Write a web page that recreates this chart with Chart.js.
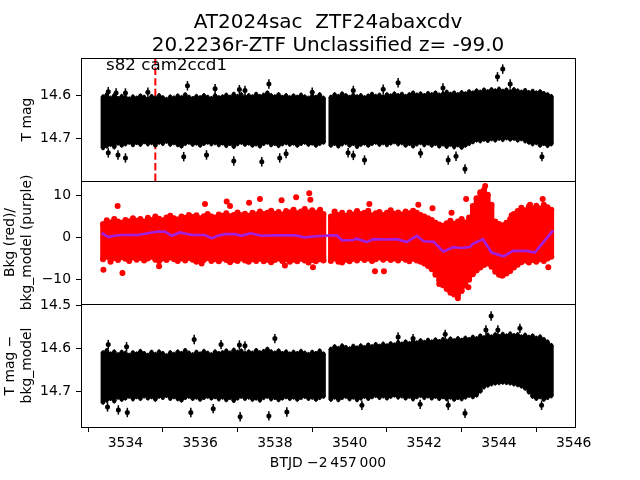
<!DOCTYPE html>
<html><head><meta charset="utf-8">
<script src="https://cdn.jsdelivr.net/npm/chart.js@4"></script>
<style>html,body{margin:0;padding:0;background:#fff}canvas{display:block}</style>
</head><body>
<canvas id="c" width="640" height="480"></canvas>
<script>
const titleLines = ['AT2024sac  ZTF24abaxcdv', '20.2236r-ZTF Unclassified z= -99.0'];
const sectorLabel = 's82 cam2ccd1';
const xLabel = 'BTJD \u22122\u2009457\u2009000';
const yLabelTop = 'T mag';
const yLabelMid = ['Bkg (red)/', 'bkg_model (purple)'];
const yLabelBot = ['T mag \u2212', 'bkg_model'];
const xTicks = [3534, 3536, 3538, 3540, 3542, 3544, 3546];
const magTicksTop = [14.6, 14.7];
const bkgTicks = [-10, 0, 10];
const magTicksBot = [14.5, 14.6, 14.7];
const eventTime = 3534.8;
const magErr = 0.011;
const edgeErr = 0.006;

const binTimes = [
 3533.4,3533.5,3533.6,3533.7,3533.8,3533.9,3534.0,3534.1,3534.2,3534.3,
 3534.4,3534.5,3534.6,3534.7,3534.8,3534.9,3535.0,3535.1,3535.2,3535.3,
 3535.4,3535.5,3535.6,3535.7,3535.8,3535.9,3536.0,3536.1,3536.2,3536.3,
 3536.4,3536.5,3536.6,3536.7,3536.8,3536.9,3537.0,3537.1,3537.2,3537.3,
 3537.4,3537.5,3537.6,3537.7,3537.8,3537.9,3538.0,3538.1,3538.2,3538.3,
 3538.4,3538.5,3538.6,3538.7,3538.8,3538.9,3539.0,3539.1,3539.2,3539.3,
 3539.5,3539.6,3539.7,3539.8,3539.9,3540.0,3540.1,3540.2,3540.3,3540.4,
 3540.5,3540.6,3540.7,3540.8,3540.9,3541.0,3541.1,3541.2,3541.3,3541.4,
 3541.5,3541.6,3541.7,3541.8,3541.9,3542.0,3542.1,3542.2,3542.3,3542.4,
 3542.5,3542.6,3542.7,3542.8,3542.9,3543.0,3543.1,3543.2,3543.3,3543.4,
 3543.5,3543.6,3543.7,3543.8,3543.9,3544.0,3544.1,3544.2,3544.3,3544.4,
 3544.5,3544.6,3544.7,3544.8,3544.9,3545.0,3545.1,3545.2,3545.3,3545.4
];

// panel 1: T mag band (bright edge / faint edge of the dense point cloud)
const p1Top = [
 14.603,14.598,14.606,14.600,14.607,14.602,14.604,14.608,14.603,14.606,
 14.601,14.604,14.608,14.602,14.606,14.600,14.605,14.609,14.603,14.606,
 14.601,14.605,14.598,14.604,14.607,14.602,14.605,14.600,14.604,14.607,
 14.600,14.605,14.603,14.599,14.604,14.597,14.602,14.598,14.604,14.600,
 14.603,14.597,14.602,14.599,14.594,14.600,14.603,14.598,14.604,14.600,
 14.605,14.601,14.604,14.599,14.603,14.606,14.601,14.604,14.598,14.606,
 14.604,14.598,14.602,14.596,14.600,14.604,14.599,14.603,14.600,14.605,
 14.601,14.597,14.602,14.599,14.603,14.598,14.601,14.596,14.600,14.597,
 14.602,14.598,14.594,14.599,14.596,14.600,14.595,14.598,14.594,14.599,
 14.596,14.592,14.597,14.594,14.598,14.593,14.596,14.591,14.594,14.589,
 14.592,14.587,14.591,14.586,14.589,14.585,14.590,14.587,14.591,14.586,
 14.589,14.592,14.588,14.593,14.590,14.594,14.591,14.595,14.598,14.602
];
const p1Bot = [
 14.722,14.718,14.714,14.720,14.711,14.716,14.713,14.709,14.715,14.710,
 14.714,14.708,14.713,14.710,14.716,14.709,14.712,14.707,14.714,14.710,
 14.715,14.718,14.712,14.709,14.714,14.711,14.716,14.712,14.709,14.713,
 14.710,14.715,14.711,14.717,14.712,14.719,14.713,14.709,14.714,14.711,
 14.716,14.713,14.718,14.712,14.709,14.715,14.712,14.717,14.713,14.710,
 14.714,14.711,14.716,14.712,14.709,14.714,14.711,14.716,14.712,14.709,
 14.716,14.712,14.718,14.713,14.710,14.716,14.712,14.719,14.714,14.711,
 14.716,14.712,14.709,14.714,14.710,14.715,14.711,14.708,14.713,14.710,
 14.716,14.712,14.718,14.713,14.710,14.715,14.711,14.716,14.712,14.718,
 14.713,14.719,14.714,14.720,14.715,14.721,14.716,14.712,14.708,14.704,
 14.706,14.702,14.705,14.701,14.704,14.700,14.703,14.699,14.702,14.700,
 14.704,14.701,14.706,14.709,14.713,14.710,14.716,14.712,14.717,14.713
];
const p1Outliers = [
 [3533.54,14.591],[3533.75,14.594],[3534.0,14.594],[3534.6,14.592],[3535.66,14.577],
 [3536.4,14.584],[3537.05,14.586],[3537.2,14.588],[3537.84,14.573],[3539.0,14.592],
 [3540.1,14.588],[3540.9,14.585],[3541.3,14.570],[3542.5,14.582],[3543.96,14.556],
 [3544.1,14.538],[3544.3,14.573],
 [3533.54,14.734],[3533.8,14.739],[3534.0,14.746],[3535.56,14.743],[3536.17,14.739],
 [3536.9,14.753],[3537.65,14.755],[3538.13,14.746],[3538.3,14.736],[3539.96,14.734],
 [3540.1,14.740],[3540.4,14.751],[3541.9,14.735],[3542.64,14.751],[3542.85,14.742],
 [3543.09,14.772],[3545.15,14.743]
];

// panel 2: background (red) band and background model (purple)
const bkgTop = [
 3.2,4.1,3.6,4.4,3.8,3.5,4.2,3.9,4.6,4.0,
 4.4,3.8,4.7,4.2,5.0,4.5,4.1,4.8,5.2,4.6,
 4.3,5.0,4.7,5.4,4.9,5.3,4.6,5.1,5.6,5.0,
 4.8,5.5,5.2,5.8,5.1,5.4,6.0,5.3,5.7,5.2,
 5.9,5.5,6.2,5.6,5.9,6.4,5.7,6.1,5.5,6.3,
 6.0,6.6,5.8,6.2,6.8,6.0,6.5,5.9,6.2,5.6,
 5.0,6.2,5.4,5.9,5.2,6.0,5.5,6.3,5.6,5.9,
 6.4,5.3,5.8,6.1,5.4,5.9,6.5,5.7,6.0,5.5,
 6.2,5.8,6.4,5.9,5.4,5.0,4.6,4.2,3.5,3.1,
 2.8,3.4,4.0,3.3,3.8,4.4,3.6,4.8,7.5,9.4,
 10.8,11.4,10.2,7.8,3.8,3.2,2.9,3.5,4.4,5.6,
 6.3,7.1,6.5,7.4,6.8,7.6,6.9,7.8,7.2,6.6
];
const bkgBot = [
 -5.2,-4.6,-5.8,-4.9,-5.4,-4.7,-5.1,-5.6,-4.8,-5.3,
 -4.9,-5.5,-5.0,-4.6,-5.3,-5.7,-5.0,-5.4,-4.8,-5.2,
 -5.6,-5.0,-5.5,-4.9,-5.3,-5.8,-5.1,-5.4,-4.9,-5.6,
 -5.2,-5.7,-5.0,-5.4,-5.9,-5.3,-5.6,-5.0,-5.5,-5.8,
 -5.2,-5.6,-5.1,-5.7,-5.3,-5.9,-5.4,-5.0,-5.6,-5.2,
 -5.8,-5.3,-5.7,-5.1,-5.5,-6.0,-5.4,-5.7,-5.2,-5.5,
 -5.6,-5.0,-5.8,-6.0,-5.3,-5.7,-5.1,-5.5,-4.9,-5.4,
 -5.0,-5.6,-5.2,-4.8,-5.3,-4.9,-5.4,-5.0,-5.5,-4.9,
 -5.3,-5.7,-5.1,-5.5,-5.8,-6.2,-6.8,-7.6,-8.9,-10.2,
 -11.4,-12.3,-13.2,-13.6,-13.9,-12.8,-11.5,-10.1,-8.8,-7.9,
 -7.2,-6.6,-6.2,-7.0,-8.2,-8.9,-9.1,-8.6,-8.0,-7.2,
 -6.5,-5.9,-5.5,-6.0,-5.4,-5.8,-5.2,-5.6,-5.0,-4.6
];
const bkgOutliers = [
 [3533.41,-7.7],[3533.92,-8.5],[3533.79,7.5],[3536.71,8.6],[3537.6,9.2],[3538.18,8.9],
 [3538.57,9.6],[3538.92,10.6],[3538.95,9.0],[3539.21,6.6],[3536.13,8.0],[3536.8,7.5],
 [3537.31,8.3],[3534.9,-6.9],[3536.04,-6.2],[3538.27,-6.7],[3539.02,-7.1],
 [3540.53,8.0],[3540.68,-8.1],[3540.92,-8.1],[3541.84,7.8],[3542.22,7.0],[3542.73,5.9],
 [3543.12,9.2],[3543.63,12.3],[3544.34,5.3],[3544.83,7.8],[3545.17,9.2],[3545.32,-7.1],
 [3543.18,-11.9],[3542.9,-14.5],[3542.4,-11.1],[3542.73,-13.1],[3543.9,-7.2],[3544.07,-9.1]
];
const bkgModel = [
 [3533.36,1.1],[3533.54,0.1],[3533.7,0.4],[3533.9,0.6],[3534.1,0.6],[3534.34,0.6],
 [3534.52,0.9],[3534.7,1.2],[3534.87,1.4],[3535.06,1.4],[3535.24,0.4],[3535.46,1.2],
 [3535.77,0.6],[3536.13,0.6],[3536.31,-0.2],[3536.5,0.5],[3536.67,0.8],[3536.93,0.8],
 [3537.11,0.4],[3537.34,1.0],[3537.65,0.4],[3538.0,0.5],[3538.54,0.5],[3538.81,0.0],
 [3539.1,0.3],[3539.34,0.4],[3539.5,0.5],[3539.66,0.5],[3539.8,-0.7],[3540.1,-0.6],
 [3540.19,-0.3],[3540.46,-1.1],[3540.64,-0.4],[3541.0,-0.5],[3541.26,-0.4],[3541.53,-1.1],
 [3541.8,0.4],[3541.98,-0.9],[3542.25,-1.0],[3542.51,-3.4],[3542.78,-2.3],[3543.0,-2.5],
 [3543.22,-2.3],[3543.3,-1.5],[3543.57,-0.4],[3543.8,-3.6],[3544.12,-4.5],[3544.38,-3.2],
 [3544.74,-3.2],[3544.96,-3.6],[3545.19,-1.1],[3545.45,1.7]
];

// panel 3: T mag - bkg_model band
const p3Top = [
 14.610,14.605,14.613,14.608,14.615,14.609,14.611,14.616,14.610,14.613,
 14.607,14.612,14.616,14.609,14.614,14.608,14.612,14.617,14.610,14.614,
 14.608,14.612,14.605,14.611,14.615,14.609,14.613,14.607,14.611,14.615,
 14.608,14.612,14.610,14.606,14.611,14.604,14.609,14.606,14.612,14.608,
 14.611,14.605,14.610,14.607,14.602,14.608,14.611,14.606,14.612,14.608,
 14.613,14.609,14.612,14.607,14.611,14.614,14.609,14.612,14.606,14.613,
 14.602,14.596,14.600,14.594,14.598,14.601,14.595,14.599,14.594,14.598,
 14.592,14.596,14.591,14.595,14.590,14.594,14.589,14.592,14.586,14.590,
 14.585,14.589,14.583,14.587,14.582,14.586,14.581,14.585,14.580,14.584,
 14.579,14.583,14.578,14.582,14.577,14.581,14.576,14.579,14.574,14.577,
 14.571,14.575,14.569,14.573,14.568,14.572,14.567,14.571,14.566,14.570,
 14.568,14.573,14.569,14.574,14.571,14.576,14.573,14.579,14.585,14.593
];
const p3Bot = [
 14.726,14.721,14.717,14.723,14.714,14.719,14.716,14.712,14.718,14.713,
 14.717,14.711,14.716,14.713,14.719,14.712,14.715,14.710,14.717,14.713,
 14.718,14.721,14.715,14.712,14.717,14.714,14.719,14.715,14.712,14.716,
 14.713,14.718,14.714,14.720,14.715,14.722,14.716,14.712,14.717,14.714,
 14.719,14.716,14.721,14.715,14.712,14.718,14.715,14.720,14.716,14.713,
 14.717,14.714,14.719,14.715,14.712,14.717,14.714,14.719,14.715,14.712,
 14.719,14.714,14.720,14.715,14.712,14.718,14.714,14.720,14.716,14.712,
 14.717,14.713,14.710,14.715,14.711,14.716,14.712,14.709,14.714,14.711,
 14.716,14.712,14.718,14.713,14.710,14.715,14.711,14.716,14.712,14.717,
 14.713,14.718,14.714,14.719,14.715,14.718,14.714,14.710,14.713,14.709,
 14.700,14.690,14.686,14.683,14.681,14.680,14.679,14.680,14.681,14.683,
 14.685,14.688,14.693,14.702,14.712,14.717,14.713,14.719,14.715,14.711
];
const p3Outliers = [
 [3533.54,14.591],[3534.03,14.596],[3535.84,14.579],[3536.56,14.591],[3537.05,14.592],
 [3537.2,14.594],[3538.0,14.577],[3541.3,14.573],[3541.7,14.577],[3542.56,14.567],
 [3543.65,14.557],[3543.79,14.524],[3543.97,14.557],[3544.56,14.553],[3545.28,14.596],
 [3533.52,14.737],[3533.81,14.744],[3534.05,14.750],[3535.75,14.750],[3536.35,14.741],
 [3537.07,14.760],[3537.84,14.758],[3538.32,14.749],[3540.33,14.733],[3541.89,14.731],
 [3542.64,14.733],[3543.09,14.752],[3545.14,14.733]
];

const band = (top, bot) => binTimes.map((t, i) => ({x: t, y: [top[i], bot[i]]}));
const pts = arr => arr.map(p => ({x: p[0], y: p[1]}));
const ends = (top, bot) => binTimes.flatMap((t, i) => [{x: t, y: top[i]}, {x: t, y: bot[i]}]);

Chart.defaults.font.family = 'DejaVu Sans';
Chart.defaults.color = '#000';
const tickFont = {family: 'DejaVu Sans', size: 13.9};
const labelFont = {family: 'DejaVu Sans', size: 13.9, lineHeight: 1.2};

function yScale(extra) {
  return Object.assign({
    type: 'linear', position: 'left', stack: 'panels', stackWeight: 1, offset: false,
    grid: {drawOnChartArea: false, drawTicks: true, tickLength: 5, color: '#000', lineWidth: 1},
    border: {display: false},
    afterFit: s => { s.width = 81; }
  }, extra);
}
const fixTicks = vals => s => { s.ticks = vals.map(v => ({value: v})); };
const minus = v => (v < 0 ? '\u2212' + Math.abs(v) : String(v));

const frames = {
  id: 'frames',
  beforeDatasetsDraw(chart) {
    const ctx = chart.ctx, xs = chart.scales.x, yt = chart.scales.yTop;
    const px = xs.getPixelForValue(eventTime);
    ctx.save();
    ctx.strokeStyle = '#ff0000'; ctx.lineWidth = 2; ctx.setLineDash([7.4, 3.2]);
    ctx.beginPath(); ctx.moveTo(px, yt.bottom); ctx.lineTo(px, yt.top); ctx.stroke();
    ctx.restore();
  },
  afterDatasetsDraw(chart) {
    const ctx = chart.ctx;
    chart.data.datasets.forEach((ds, i) => {
      if (!ds.errorBar) return;
      const meta = chart.getDatasetMeta(i), ys = chart.scales[ds.yAxisID];
      ctx.save(); ctx.strokeStyle = '#000'; ctx.lineWidth = 1.5;
      meta.data.forEach((el, j) => {
        const v = ds.data[j].y;
        ctx.beginPath();
        ctx.moveTo(el.x, ys.getPixelForValue(v - ds.errorBar));
        ctx.lineTo(el.x, ys.getPixelForValue(v + ds.errorBar));
        ctx.stroke();
      });
      ctx.restore();
    });
  },
  afterDraw(chart) {
    const ctx = chart.ctx, ca = chart.chartArea;
    ctx.save();
    ctx.strokeStyle = '#000'; ctx.lineWidth = 1;
    ['yTop', 'yMid', 'yBot'].forEach(id => {
      const s = chart.scales[id];
      ctx.strokeRect(Math.round(ca.left) + 0.5, Math.round(s.top) + 0.5, Math.round(ca.right - ca.left), Math.round(s.bottom - s.top));
    });
    ctx.fillStyle = '#000';
    ctx.font = '20px "DejaVu Sans"';
    ctx.textAlign = 'center'; ctx.textBaseline = 'alphabetic';
    const cx = (ca.left + ca.right) / 2;
    ctx.fillText(titleLines[0], cx, ca.top - 30);
    ctx.fillText(titleLines[1], cx, ca.top - 7.5);
    ctx.font = '16.7px "DejaVu Sans"';
    ctx.textAlign = 'left';
    ctx.fillText(sectorLabel, ca.left + 25, chart.scales.yTop.top + 12);
    ctx.restore();
  }
};

new Chart(document.getElementById('c'), {
  type: 'scatter',
  plugins: [frames],
  data: {
    datasets: [
      {type: 'line', data: pts(bkgModel), xAxisID: 'x', yAxisID: 'yMid', borderColor: '#a21fe0', borderWidth: 2.6, pointRadius: 0, tension: 0, fill: false},
      {type: 'scatter', data: pts(bkgOutliers), xAxisID: 'x', yAxisID: 'yMid', backgroundColor: '#ff0000', borderWidth: 0, pointRadius: 3},
      {type: 'scatter', data: ends(bkgTop, bkgBot), xAxisID: 'x', yAxisID: 'yMid', backgroundColor: '#ff0000', borderWidth: 0, pointRadius: 3},
      {type: 'bar', data: band(bkgTop, bkgBot), xAxisID: 'x', yAxisID: 'yMid', backgroundColor: '#ff0000', borderWidth: 0, barThickness: 5, grouped: false},
      {type: 'scatter', data: pts(p1Outliers), errorBar: magErr, xAxisID: 'x', yAxisID: 'yTop', backgroundColor: '#000', borderWidth: 0, pointRadius: 2.5},
      {type: 'scatter', data: ends(p1Top, p1Bot), errorBar: edgeErr, xAxisID: 'x', yAxisID: 'yTop', backgroundColor: '#000', borderWidth: 0, pointRadius: 2.2},
      {type: 'bar', data: band(p1Top, p1Bot), xAxisID: 'x', yAxisID: 'yTop', backgroundColor: '#000', borderWidth: 0, barThickness: 4.2, grouped: false},
      {type: 'scatter', data: pts(p3Outliers), errorBar: magErr, xAxisID: 'x', yAxisID: 'yBot', backgroundColor: '#000', borderWidth: 0, pointRadius: 2.5},
      {type: 'scatter', data: ends(p3Top, p3Bot), errorBar: edgeErr, xAxisID: 'x', yAxisID: 'yBot', backgroundColor: '#000', borderWidth: 0, pointRadius: 2.2},
      {type: 'bar', data: band(p3Top, p3Bot), xAxisID: 'x', yAxisID: 'yBot', backgroundColor: '#000', borderWidth: 0, barThickness: 4.2, grouped: false}
    ]
  },
  options: {
    responsive: false, animation: false, devicePixelRatio: 1, events: [],
    layout: {padding: {top: 58, right: 65, bottom: 0, left: 0}},
    plugins: {legend: {display: false}, tooltip: {enabled: false}, title: {display: false}},
    scales: {
      x: {
        type: 'linear', position: 'bottom', min: 3532.81, max: 3546.035, offset: false,
        afterBuildTicks: fixTicks(xTicks),
        ticks: {font: tickFont, color: '#000', padding: 3, autoSkip: false, maxRotation: 0, callback: v => String(v)},
        grid: {drawOnChartArea: false, drawTicks: true, tickLength: 5, color: '#000', lineWidth: 1},
        border: {display: false},
        title: {display: true, text: xLabel, font: labelFont, color: '#000', padding: {top: 0, bottom: 8.6}},
        afterFit: s => { s.height = 53; }
      },
      yBot: yScale({
        reverse: true, min: 14.496, max: 14.784,
        afterBuildTicks: fixTicks(magTicksBot),
        ticks: {font: tickFont, color: '#000', padding: 5, autoSkip: false, callback: v => v.toFixed(1)},
        title: {display: true, text: yLabelBot, font: labelFont, color: '#000', padding: {top: 2.2, bottom: 0}}
      }),
      yMid: yScale({
        min: -15.9, max: 13.5,
        afterBuildTicks: fixTicks(bkgTicks),
        ticks: {font: tickFont, color: '#000', padding: 5, autoSkip: false, callback: minus},
        title: {display: true, text: yLabelMid, font: labelFont, color: '#000', padding: {top: 2.2, bottom: 0}}
      }),
      yTop: yScale({
        reverse: true, min: 14.512, max: 14.8,
        afterBuildTicks: fixTicks(magTicksTop),
        ticks: {font: tickFont, color: '#000', padding: 5, autoSkip: false, callback: v => v.toFixed(1)},
        title: {display: true, text: yLabelTop, font: labelFont, color: '#000', padding: {top: 18.6, bottom: 0}}
      })
    }
  }
});
</script>
</body></html>
